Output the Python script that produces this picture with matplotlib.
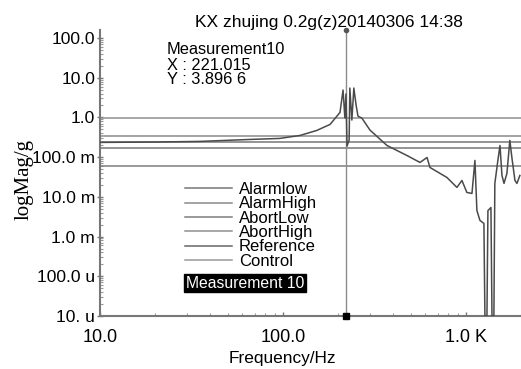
import matplotlib
matplotlib.use("Agg")
import matplotlib.pyplot as plt
from matplotlib.ticker import FixedLocator, NullFormatter, LogLocator

plt.rcParams['font.family'] = ['Liberation Sans', 'DejaVu Sans']

# ---- data ----
limit_names = ["Alarmlow", "AlarmHigh", "AbortLow", "AbortHigh", "Reference", "Control"]
limit_values = [0.173, 0.346, 0.0613, 0.975, 0.244, 0.244]

freq = [10, 20, 35, 66, 96, 124, 153, 181, 205, 213, 218, 221, 224, 230, 232, 238, 244,
        251, 257, 270, 299, 370, 476, 561, 613, 636, 787, 893, 951, 1012, 1079, 1120,
        1148, 1193, 1254, 1270, 1303, 1319, 1370, 1388, 1422, 1439, 1495, 1535, 1574,
        1615, 1675, 1738, 1783, 1853, 1900, 1972]
mag = [0.235, 0.24, 0.249, 0.279, 0.296, 0.352, 0.47, 0.667, 1.34, 4.9, 0.97, 3.9, 0.19,
       0.27, 5.5, 0.86, 5.5, 2.05, 1.08, 0.96, 0.48, 0.197, 0.110, 0.0735, 0.098, 0.055,
       0.0308, 0.0173, 0.0259, 0.0129, 0.0122, 0.0826, 0.00454, 0.00255, 0.00214, 1e-5,
       1e-5, 0.0045, 0.0054, 1e-5, 1e-5, 0.0218, 0.0826, 0.197, 0.0346, 0.0218, 0.0389,
       0.264, 0.098, 0.0259, 0.0218, 0.0346]

cursor_x = 221.015
cursor_y = 3.8966

ytick_vals = [1e-5, 1e-4, 1e-3, 1e-2, 1e-1, 1, 10, 100]
ytick_labels = ["10. u", "100.0 u", "1.0 m", "10.0 m", "100.0 m", "1.0", "10.0", "100.0"]
xtick_vals = [10, 100, 1000]
xtick_labels = ["10.0", "100.0", "1.0 K"]

title = "KX zhujing 0.2g(z)20140306 14:38"

# ---- figure ----
W, H = 521, 369
fig = plt.figure(figsize=(W / 100, H / 100), dpi=100)
ax = fig.add_axes([100 / W, 1 - 316 / H, 421 / W, (316 - 30) / H])
ax.set_xscale('log')
ax.set_yscale('log')
ax.set_xlim(10, 2000)
ax.set_ylim(1e-5, 10 ** 2.2015)

grays = ['#777777', '#8a8a8a', '#7d7d7d', '#909090', '#666666', '#9a9a9a']
handles = []
for name, val, c in zip(limit_names, limit_values, grays):
    h = ax.axhline(val, color=c, lw=1.1, label=name, zorder=2)
    handles.append(h)

ax.plot(freq, mag, color='#4a4a4a', lw=1.1, zorder=3)

# cursor
ax.axvline(cursor_x, color='#8c8c8c', lw=1.0, zorder=2)
ax.plot([cursor_x], [1e-5], marker='s', ms=4, color='black', clip_on=False, zorder=5)
ax.plot([cursor_x], [10 ** 2.2015], marker='o', ms=3, color='#555555', clip_on=False, zorder=5)

for s in ['top', 'right']:
    ax.spines[s].set_visible(False)
for s in ['left', 'bottom']:
    ax.spines[s].set_color('#777777')
    ax.spines[s].set_linewidth(1.5)

ax.yaxis.set_major_locator(FixedLocator(ytick_vals))
ax.set_yticklabels(ytick_labels)
ax.yaxis.set_minor_locator(LogLocator(base=10, subs=[2, 3, 4, 5, 6, 7, 8, 9], numticks=20))
ax.yaxis.set_minor_formatter(NullFormatter())
ax.xaxis.set_major_locator(FixedLocator(xtick_vals))
ax.set_xticklabels(xtick_labels)
ax.xaxis.set_minor_locator(LogLocator(base=10, subs=[2, 3, 4, 5, 6, 7, 8, 9], numticks=20))
ax.xaxis.set_minor_formatter(NullFormatter())

ax.tick_params(axis='y', which='major', direction='inout', length=4, width=1, color='#777777',
               labelsize=12.6, pad=1.5, labelcolor='black')
ax.tick_params(axis='y', which='minor', direction='in', length=2, width=0.8, color='#999999')
ax.tick_params(axis='x', which='major', direction='in', length=3, width=1, color='#777777',
               labelsize=13, pad=9, labelcolor='black')
ax.tick_params(axis='x', which='minor', direction='in', length=2.5, width=0.8, color='#999999')

# title & labels
fig.text(329 / W, 1 - 22 / H, title, ha='center', va='center', fontsize=12.5)
fig.text(282 / W, 1 - 359 / H, "Frequency/Hz", ha='center', va='center', fontsize=12.4)
fig.text(24 / W, 1 - 180 / H, "logMag/g", rotation=90, ha='center', va='center', fontsize=15,
         family=['Liberation Serif', 'DejaVu Serif'])

fig.text(167 / W, 1 - 49 / H, "Measurement10", ha='left', va='center', fontsize=11.8)
fig.text(167 / W, 1 - 65 / H, "X : 221.015", ha='left', va='center', fontsize=11.8)
fig.text(167 / W, 1 - 79 / H, "Y : 3.896 6", ha='left', va='center', fontsize=11.8)

leg = ax.legend(handles=handles, loc='upper left', bbox_to_anchor=(185 / W, 1 - 182 / H),
                bbox_transform=fig.transFigure, frameon=False, fontsize=12,
                handlelength=2.8, handletextpad=0.42, labelspacing=-0.04, borderpad=0,
                borderaxespad=0)

fig.text(245 / W, 1 - 283 / H, "Measurement 10", ha='center', va='center', fontsize=11.3,
         color='white', bbox=dict(facecolor='black', edgecolor='black', boxstyle='square,pad=0.1'))

fig.savefig('out.png', dpi=100)
